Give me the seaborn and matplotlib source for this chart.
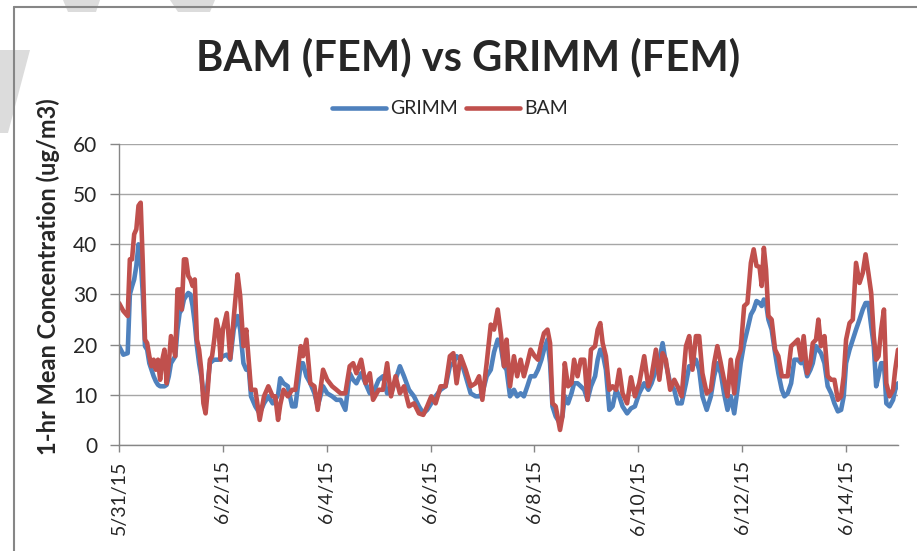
import pandas as pd
import numpy as np
import matplotlib
matplotlib.use("Agg")
import matplotlib.pyplot as plt
from matplotlib.lines import Line2D
from matplotlib.patches import Polygon
import seaborn as sns

# hours after 5/31/15 00:00
hours = [0, 2, 4, 5, 6, 7, 8, 9, 10, 11, 12, 13, 14, 15, 16, 17, 18, 19, 20, 21, 22, 23, 24,
         26, 27, 28, 29, 30, 31, 32, 33, 34, 35, 36, 37, 38, 39, 40, 41, 42, 43, 44, 45, 46, 47, 48,
         49.8, 51.4, 53, 54.8, 56, 57.5, 58.8, 60, 61, 63, 65, 67, 69, 71, 72.2, 73.5, 74.5, 76, 78,
         80, 81.5, 84, 85, 86.6, 88.4, 90.3, 91.8, 94.3, 96.2, 98.5, 100.5, 102.4, 104.6, 106.6,
         108.2, 109.7, 111.9, 113.9, 115.9,
         117.4, 120, 122, 123.9, 125.7, 127.8, 129.8, 131.7, 134, 136.3,
         138.6, 140.6, 142.4, 144.3, 146.3, 148.6, 150.9, 152.9, 154.5, 156,
         157.9, 160.2, 162.5, 164.8, 166.4, 167.9, 169.9, 171.8, 173.3, 175,
         176.5, 177.9, 179.1, 180.7, 182.5, 184, 185.6, 187.1, 188.7, 190.2,
         192.1, 193.6, 195.2, 196.4, 198, 199.2, 200.3, 201.8, 203.8, 204.9,
         206, 207.5, 209.1, 210.3, 211.9, 213.4, 215, 216.5, 218.1, 220,
         221.2, 222.4, 223.5, 225, 226.6, 228.1, 229.7, 231.2, 232.7, 234.8,
         236.6, 238.4, 240.4, 242.7, 244.6, 246.1, 248.1, 249.7, 251.2, 252.7,
         254.7, 256.6, 258.1, 260, 262, 263.5, 265, 266.6, 268.1, 269.6,
         271.6, 273.5, 275, 276.5, 278.1, 279.6, 281.2, 282.7, 284.3, 285.8,
         287.3, 288.9, 290.4, 292, 293.3, 294.6, 296, 297, 298, 299,
         300.1, 301.6, 303.2, 304.7, 306.3, 307.5, 309, 310.6, 312.1, 313.7,
         315.2, 316.4, 318, 319.5, 320.6, 322.1, 323.2, 324.4, 326, 327.5,
         329.1, 330.6, 332.2, 333.7, 334.9, 336, 337.6, 339.1, 340.6, 342.2,
         343.7, 345, 346.3, 347.6, 348.8, 349.9, 351, 352.2, 353.5, 354.6,
         356.1, 357.7, 358.7, 360]

grimm = [19.7, 18, 18.3, 30, 31.6, 33, 35.7, 40, 37, 30, 19.7, 19, 16.3, 15, 13.7, 12.7, 12, 11.7,
         11.7, 11.7, 12, 13.7, 16.3,
         17.7, 23, 26.3, 27, 29, 29.7, 30.3, 30, 27.7, 24.3, 19.7, 16.3, 13.7, 10.3, 9, 12.3, 16.3,
         16.7, 17, 17, 17, 17.3, 17.7,
         18, 17, 23, 25.7, 23, 16.3, 15, 15, 9.7, 7.7, 6.3, 8.3, 9.7, 8.3, 9, 10, 13.3, 12.3, 11.7,
         7.7, 7.7, 16.3, 16.3, 13.7, 12.3, 10.3, 7.7, 11.7, 10.3, 9.7, 9, 9, 7, 14.3, 13, 12.3, 14.3,
         12.3, 10.3,
         10.3, 13, 13.7, 10.3, 10.3, 13, 15.7, 13.7, 11, 9.7,
         7.7, 6.3, 7, 8.3, 9.7, 11, 11.7, 15.7, 16.3, 17.7,
         17, 13.7, 10.3, 9.7, 9.7, 10.3, 13.7, 15, 18.5, 21,
         19.5, 15.7, 15, 9.7, 11, 9.7, 10.3, 9.7, 11.7, 13.7,
         13.7, 15, 17, 19, 21, 16.3, 7.7, 5.7, 4.3, 5.7,
         9.7, 8.3, 10.3, 12.3, 12.3, 11.7, 11, 9, 11.7, 13.7,
         17, 19, 18.3, 15, 7, 7.7, 11, 9.7, 7.7, 6.3,
         7.3, 7.7, 10.3, 12.3, 11, 12.3, 15, 17, 20.3, 16.3,
         12.3, 11, 8.3, 8.3, 12.3, 15.7, 15.7, 17, 15, 9.7,
         7, 9.7, 13.7, 16.3, 14.3, 10.3, 7, 9.7, 6.3, 11,
         16.3, 20.3, 23, 26, 27, 28.7, 28.3, 27.7, 29, 28.3,
         25, 23, 18.3, 14.3, 11, 9.7, 10.3, 12.3, 17, 17,
         16.3, 17, 13.7, 15, 16.3, 19.7, 19, 18.3, 16.3, 11.7,
         10.3, 8.3, 6.7, 7, 9.7, 16.3, 19, 21, 23, 25,
         27, 28.3, 28.3, 23.7, 19.7, 11.7, 13.7, 16.3, 16.3, 8.3,
         7.7, 9, 11, 12.3]

bam = [28.3, 26.7, 25.7, 37, 37, 42, 43, 47.7, 48.3, 36, 21, 20.3, 17.7, 15.7, 17, 15, 17, 13,
       17, 19, 12.3, 16.3, 21.7,
       17.7, 31, 31, 27, 37, 37, 33.7, 33, 31.7, 33, 21, 19, 15, 8.3, 6.3, 11, 17, 17.7, 21, 25,
       23, 17, 23,
       26.3, 17.3, 25.3, 34, 29.7, 19.7, 23, 16.3, 11, 11, 5, 9.7, 11.7, 9.7, 9.7, 5, 8, 11, 9.7,
       11, 11, 19.7, 17.7, 21, 12.3, 11.7, 7, 15, 13, 11.7, 11, 10.3, 10.3, 15.7, 16.3, 14.3, 17,
       12.3, 14.3,
       9, 11, 11, 16.3, 9.7, 13.7, 10.3, 11.7, 7.7, 8.3,
       6.3, 6, 7.7, 9.7, 8.3, 11.7, 11.7, 17.7, 18.3, 12.3,
       17.7, 15, 11.7, 12.3, 13.7, 9, 16.3, 24, 23, 27,
       22, 15.7, 21, 11.7, 17.7, 13.7, 17, 13.7, 16.3, 19,
       17.7, 17, 20.3, 22.3, 23, 20.3, 8.3, 7.7, 3, 5.7,
       16.3, 11.7, 12.3, 17, 13.7, 17, 17, 9, 19, 19.7,
       23, 24.3, 20.3, 17.7, 11, 11.7, 11, 15, 10.3, 8.3,
       13.5, 9.7, 12.3, 17.7, 11.7, 13.7, 19, 13, 18.3, 17,
       11, 13, 11.7, 9.7, 19.7, 21.7, 15, 21.7, 21.7, 14.3,
       10.3, 11, 16.3, 19.7, 16.3, 13, 9.7, 17, 10.3, 17,
       19, 27.7, 28.3, 36.3, 39, 35.7, 35.5, 31.7, 39.3, 35,
       25.7, 25, 19, 17.7, 13.7, 13.7, 13.7, 19.7, 20.3, 21,
       17, 21.7, 14.3, 16.3, 20.3, 21, 25, 19.7, 21.7, 13.7,
       13, 13, 9, 9.7, 13.7, 21, 24.3, 25, 36.3, 32.3,
       34.3, 38, 34.3, 30.3, 21.7, 17, 17.7, 23, 27, 12.3,
       9.7, 11, 15, 19]

series_names = ["GRIMM", "BAM"]
colors = ["#4F81BD", "#C0504D"]

start = pd.Timestamp("2015-05-31")
times = start + pd.to_timedelta(hours, unit="h")

df = pd.DataFrame({"time": times, "GRIMM": grimm, "BAM": bam})
long_df = df.melt(id_vars="time", var_name="series", value_name="conc")

sns.set_style("white")
plt.rcParams["font.family"] = ["Lato", "DejaVu Sans"]

fig = plt.figure(figsize=(9.17, 5.51), dpi=100)
ax = fig.add_axes([0.1298, 0.1924, 0.8495, 0.5463])

sns.lineplot(data=long_df, x="time", y="conc", hue="series", hue_order=series_names,
             palette=colors, estimator=None, linewidth=3.3, ax=ax, legend=False)

ax.set_ylim(0, 60)
ax.set_yticks(range(0, 61, 10))
ax.set_xlim(start, start + pd.Timedelta(days=15))
tick_dates = pd.date_range(start, periods=8, freq="2D")
ax.set_xticks(tick_dates)
ax.set_xticklabels([f"{d.month}/{d.day}/{d:%y}" for d in tick_dates], rotation=90)

ax.yaxis.grid(True, color="#a6a6a6", linewidth=1)
ax.xaxis.grid(False)
for side in ["top", "right"]:
    ax.spines[side].set_visible(False)
for side in ["left", "bottom"]:
    ax.spines[side].set_color("#868686")
    ax.spines[side].set_linewidth(1)
ax.tick_params(axis="y", length=6.5, width=1, color="#868686", pad=9, labelsize=15,
               left=True)
ax.tick_params(axis="x", length=5, width=1, color="#868686", pad=6, labelsize=14,
               bottom=True)
ax.set_xlabel("")
ax.set_ylabel("1-hr Mean Concentration (ug/m3)", fontsize=17, fontweight="bold")
ax.yaxis.set_label_coords(-0.0757, 0.56)

fig.text(468.5 / 917, 1 - 70 / 551, "BAM (FEM) vs GRIMM (FEM)", ha="center",
         va="baseline", fontsize=30, fontweight="bold")

handles = [Line2D([], [], color=c, linewidth=3.3) for c in colors]
fig.legend(handles, series_names, loc="center", bbox_to_anchor=(450 / 917, 1 - 109 / 551),
           ncol=2, frameon=False, fontsize=14, handlelength=2.8, handletextpad=0.2,
           columnspacing=0.4)

# chart area border (left and top edges visible) and faint watermark pieces
bx, by = 14 / 917, 1 - 7 / 551
fig.add_artist(Line2D([bx, bx], [0, by], color="#868686", linewidth=1.5))
fig.add_artist(Line2D([bx, 1], [by, by], color="#868686", linewidth=1.5))
W, H = 917, 551
for pts in [[(0, 50), (30, 50), (8, 133), (0, 133)],
            [(63, 0), (100, 0), (96, 12), (68, 12)],
            [(170, 0), (215, 0), (210, 12), (178, 12)]]:
    fig.add_artist(Polygon([(x / W, 1 - y / H) for x, y in pts], closed=True,
                           facecolor="#dcdcdc", edgecolor="none", zorder=-1))

fig.savefig("out.png", dpi=100)
